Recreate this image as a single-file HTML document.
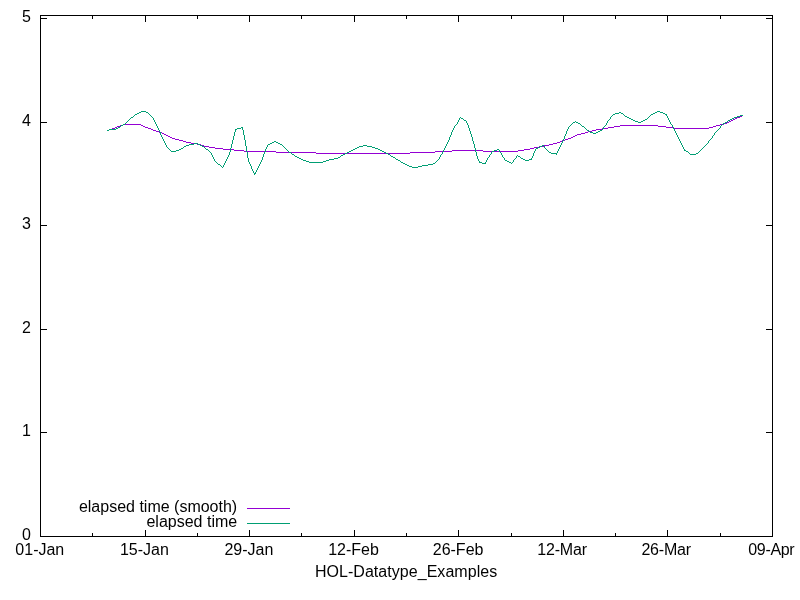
<!DOCTYPE html>
<html><head><meta charset="utf-8"><title>HOL-Datatype_Examples</title>
<style>
html,body{margin:0;padding:0;background:#fff;}
body{width:800px;height:600px;overflow:hidden;position:relative;}
svg{display:block;position:absolute;left:0;top:0;}
text{font-family:"Liberation Sans",sans-serif;font-size:16px;fill:#000;}
</style></head><body>
<svg width="800" height="600" viewBox="0 0 800 600">
<rect width="800" height="600" fill="#fff"/>
<g fill="#000" stroke="none" shape-rendering="crispEdges">
<rect x="40" y="15" width="733" height="1"/>
<rect x="40" y="536" width="733" height="1"/>
<rect x="40" y="15" width="1" height="522"/>
<rect x="772" y="15" width="1" height="522"/>
<rect x="41" y="536" width="6" height="1"/><rect x="766" y="536" width="6" height="1"/>
<rect x="41" y="432" width="6" height="1"/><rect x="766" y="432" width="6" height="1"/>
<rect x="41" y="329" width="6" height="1"/><rect x="766" y="329" width="6" height="1"/>
<rect x="41" y="225" width="6" height="1"/><rect x="766" y="225" width="6" height="1"/>
<rect x="41" y="122" width="6" height="1"/><rect x="766" y="122" width="6" height="1"/>
<rect x="41" y="18" width="6" height="1"/><rect x="766" y="18" width="6" height="1"/>
<rect x="40" y="530" width="1" height="6"/><rect x="40" y="16" width="1" height="6"/>
<rect x="92" y="533" width="1" height="3"/><rect x="92" y="16" width="1" height="3"/>
<rect x="145" y="530" width="1" height="6"/><rect x="145" y="16" width="1" height="6"/>
<rect x="197" y="533" width="1" height="3"/><rect x="197" y="16" width="1" height="3"/>
<rect x="249" y="530" width="1" height="6"/><rect x="249" y="16" width="1" height="6"/>
<rect x="301" y="533" width="1" height="3"/><rect x="301" y="16" width="1" height="3"/>
<rect x="354" y="530" width="1" height="6"/><rect x="354" y="16" width="1" height="6"/>
<rect x="406" y="533" width="1" height="3"/><rect x="406" y="16" width="1" height="3"/>
<rect x="458" y="530" width="1" height="6"/><rect x="458" y="16" width="1" height="6"/>
<rect x="511" y="533" width="1" height="3"/><rect x="511" y="16" width="1" height="3"/>
<rect x="563" y="530" width="1" height="6"/><rect x="563" y="16" width="1" height="6"/>
<rect x="615" y="533" width="1" height="3"/><rect x="615" y="16" width="1" height="3"/>
<rect x="667" y="530" width="1" height="6"/><rect x="667" y="16" width="1" height="6"/>
<rect x="720" y="533" width="1" height="3"/><rect x="720" y="16" width="1" height="3"/>
<rect x="772" y="530" width="1" height="6"/><rect x="772" y="16" width="1" height="6"/>
</g>
<g stroke="none" shape-rendering="crispEdges">
<path fill="#9400d3" d="M740 116h2v1h-2zM737 117h3v1h-3zM735 118h2v1h-2zM733 119h2v1h-2zM731 120h2v1h-2zM729 121h2v1h-2zM727 122h2v1h-2zM724 123h3v1h-3zM123 124h18v1h-18zM720 124h4v1h-4zM120 125h3v1h-3zM141 125h2v1h-2zM620 125h38v1h-38zM716 125h4v1h-4zM117 126h3v1h-3zM143 126h2v1h-2zM614 126h6v1h-6zM658 126h8v1h-8zM713 126h3v1h-3zM115 127h2v1h-2zM145 127h3v1h-3zM608 127h6v1h-6zM666 127h8v1h-8zM709 127h4v1h-4zM112 128h3v1h-3zM148 128h3v1h-3zM602 128h6v1h-6zM674 128h35v1h-35zM109 129h3v1h-3zM151 129h2v1h-2zM596 129h6v1h-6zM107 130h2v1h-2zM153 130h3v1h-3zM592 130h4v1h-4zM156 131h3v1h-3zM588 131h4v1h-4zM159 132h3v1h-3zM585 132h3v1h-3zM162 133h2v1h-2zM581 133h4v1h-4zM164 134h2v1h-2zM577 134h4v1h-4zM166 135h2v1h-2zM575 135h2v1h-2zM168 136h2v1h-2zM573 136h2v1h-2zM170 137h2v1h-2zM571 137h2v1h-2zM172 138h3v1h-3zM568 138h3v1h-3zM175 139h4v1h-4zM565 139h3v1h-3zM179 140h4v1h-4zM562 140h3v1h-3zM183 141h3v1h-3zM560 141h2v1h-2zM186 142h5v1h-5zM557 142h3v1h-3zM191 143h6v1h-6zM553 143h4v1h-4zM197 144h4v1h-4zM549 144h4v1h-4zM201 145h3v1h-3zM544 145h5v1h-5zM204 146h5v1h-5zM539 146h5v1h-5zM209 147h6v1h-6zM534 147h5v1h-5zM215 148h8v1h-8zM530 148h4v1h-4zM223 149h11v1h-11zM524 149h6v1h-6zM234 150h10v1h-10zM452 150h31v1h-31zM518 150h6v1h-6zM244 151h32v1h-32zM435 151h17v1h-17zM483 151h35v1h-35zM276 152h40v1h-40zM410 152h25v1h-25zM316 153h94v1h-94z"/>
<path fill="#009e73" d="M141 111h5v1h-5zM657 111h3v1h-3zM139 112h2v1h-2zM146 112h2v1h-2zM619 112h2v1h-2zM655 112h2v1h-2zM660 112h3v1h-3zM137 113h2v1h-2zM148 113h1v1h-1zM615 113h4v1h-4zM621 113h2v1h-2zM653 113h2v1h-2zM663 113h2v1h-2zM135 114h2v1h-2zM149 114h1v1h-1zM613 114h2v1h-2zM623 114h1v1h-1zM651 114h2v1h-2zM665 114h2v1h-2zM134 115h1v1h-1zM150 115h1v1h-1zM612 115h1v1h-1zM624 115h1v1h-1zM650 115h1v1h-1zM666 115h1v1h-1zM740 115h3v1h-3zM133 116h1v1h-1zM151 116h1v1h-1zM611 116h1v1h-1zM625 116h2v1h-2zM649 116h1v1h-1zM667 116h1v1h-1zM737 116h3v1h-3zM131 117h2v1h-2zM152 117h1v1h-1zM460 117h1v1h-1zM610 117h1v1h-1zM627 117h2v1h-2zM648 117h1v1h-1zM667 117h1v1h-1zM734 117h3v1h-3zM130 118h1v1h-1zM153 118h1v1h-1zM459 118h1v1h-1zM461 118h2v1h-2zM610 118h1v1h-1zM629 118h2v1h-2zM647 118h1v1h-1zM668 118h1v1h-1zM732 118h2v1h-2zM129 119h1v1h-1zM153 119h1v1h-1zM459 119h1v1h-1zM463 119h1v1h-1zM609 119h1v1h-1zM631 119h2v1h-2zM645 119h2v1h-2zM668 119h1v1h-1zM730 119h2v1h-2zM128 120h1v1h-1zM154 120h1v1h-1zM458 120h1v1h-1zM464 120h2v1h-2zM608 120h1v1h-1zM633 120h2v1h-2zM643 120h2v1h-2zM669 120h1v1h-1zM728 120h2v1h-2zM127 121h1v1h-1zM154 121h1v1h-1zM458 121h1v1h-1zM466 121h1v1h-1zM575 121h1v1h-1zM607 121h1v1h-1zM635 121h3v1h-3zM641 121h2v1h-2zM669 121h1v1h-1zM727 121h1v1h-1zM126 122h1v1h-1zM155 122h1v1h-1zM457 122h1v1h-1zM466 122h1v1h-1zM573 122h2v1h-2zM576 122h2v1h-2zM607 122h1v1h-1zM638 122h3v1h-3zM670 122h1v1h-1zM725 122h2v1h-2zM125 123h1v1h-1zM155 123h1v1h-1zM457 123h1v1h-1zM467 123h1v1h-1zM572 123h1v1h-1zM578 123h2v1h-2zM606 123h1v1h-1zM670 123h1v1h-1zM723 123h2v1h-2zM123 124h2v1h-2zM156 124h1v1h-1zM456 124h1v1h-1zM467 124h1v1h-1zM571 124h1v1h-1zM580 124h1v1h-1zM606 124h1v1h-1zM671 124h1v1h-1zM722 124h1v1h-1zM121 125h2v1h-2zM156 125h1v1h-1zM455 125h1v1h-1zM468 125h1v1h-1zM570 125h1v1h-1zM581 125h1v1h-1zM605 125h1v1h-1zM672 125h1v1h-1zM721 125h1v1h-1zM120 126h1v1h-1zM157 126h1v1h-1zM454 126h1v1h-1zM468 126h1v1h-1zM569 126h1v1h-1zM582 126h2v1h-2zM604 126h1v1h-1zM672 126h1v1h-1zM720 126h1v1h-1zM118 127h2v1h-2zM157 127h1v1h-1zM241 127h2v1h-2zM454 127h1v1h-1zM468 127h1v1h-1zM568 127h1v1h-1zM584 127h1v1h-1zM603 127h1v1h-1zM673 127h1v1h-1zM720 127h1v1h-1zM116 128h2v1h-2zM158 128h1v1h-1zM237 128h4v1h-4zM242 128h1v1h-1zM453 128h1v1h-1zM469 128h1v1h-1zM568 128h1v1h-1zM585 128h1v1h-1zM603 128h1v1h-1zM673 128h1v1h-1zM719 128h1v1h-1zM109 129h7v1h-7zM158 129h1v1h-1zM235 129h2v1h-2zM242 129h1v1h-1zM453 129h1v1h-1zM469 129h1v1h-1zM567 129h1v1h-1zM586 129h1v1h-1zM602 129h1v1h-1zM674 129h1v1h-1zM718 129h1v1h-1zM107 130h2v1h-2zM159 130h1v1h-1zM235 130h1v1h-1zM243 130h1v1h-1zM452 130h1v1h-1zM469 130h1v1h-1zM567 130h1v1h-1zM587 130h2v1h-2zM600 130h2v1h-2zM674 130h1v1h-1zM717 130h1v1h-1zM159 131h1v1h-1zM235 131h1v1h-1zM243 131h1v1h-1zM452 131h1v1h-1zM470 131h1v1h-1zM566 131h1v1h-1zM589 131h1v1h-1zM598 131h2v1h-2zM675 131h1v1h-1zM716 131h1v1h-1zM160 132h1v1h-1zM234 132h1v1h-1zM243 132h1v1h-1zM451 132h1v1h-1zM470 132h1v1h-1zM566 132h1v1h-1zM590 132h3v1h-3zM596 132h2v1h-2zM675 132h1v1h-1zM715 132h1v1h-1zM160 133h1v1h-1zM234 133h1v1h-1zM243 133h1v1h-1zM451 133h1v1h-1zM470 133h1v1h-1zM566 133h1v1h-1zM593 133h3v1h-3zM676 133h1v1h-1zM714 133h1v1h-1zM160 134h1v1h-1zM234 134h1v1h-1zM243 134h1v1h-1zM451 134h1v1h-1zM471 134h1v1h-1zM565 134h1v1h-1zM676 134h1v1h-1zM714 134h1v1h-1zM161 135h1v1h-1zM234 135h1v1h-1zM244 135h1v1h-1zM450 135h1v1h-1zM471 135h1v1h-1zM565 135h1v1h-1zM677 135h1v1h-1zM713 135h1v1h-1zM161 136h1v1h-1zM233 136h1v1h-1zM244 136h1v1h-1zM450 136h1v1h-1zM471 136h1v1h-1zM564 136h1v1h-1zM677 136h1v1h-1zM712 136h1v1h-1zM162 137h1v1h-1zM233 137h1v1h-1zM244 137h1v1h-1zM449 137h1v1h-1zM472 137h1v1h-1zM564 137h1v1h-1zM678 137h1v1h-1zM712 137h1v1h-1zM162 138h1v1h-1zM233 138h1v1h-1zM244 138h1v1h-1zM449 138h1v1h-1zM472 138h1v1h-1zM564 138h1v1h-1zM678 138h1v1h-1zM711 138h1v1h-1zM163 139h1v1h-1zM233 139h1v1h-1zM244 139h1v1h-1zM449 139h1v1h-1zM472 139h1v1h-1zM563 139h1v1h-1zM679 139h1v1h-1zM710 139h1v1h-1zM163 140h1v1h-1zM232 140h1v1h-1zM245 140h1v1h-1zM448 140h1v1h-1zM472 140h1v1h-1zM563 140h1v1h-1zM679 140h1v1h-1zM709 140h1v1h-1zM164 141h1v1h-1zM232 141h1v1h-1zM245 141h1v1h-1zM274 141h2v1h-2zM448 141h1v1h-1zM473 141h1v1h-1zM562 141h1v1h-1zM680 141h1v1h-1zM708 141h1v1h-1zM164 142h1v1h-1zM232 142h1v1h-1zM245 142h1v1h-1zM272 142h2v1h-2zM276 142h2v1h-2zM447 142h1v1h-1zM473 142h1v1h-1zM562 142h1v1h-1zM680 142h1v1h-1zM708 142h1v1h-1zM165 143h1v1h-1zM194 143h4v1h-4zM232 143h1v1h-1zM245 143h1v1h-1zM270 143h2v1h-2zM278 143h2v1h-2zM447 143h1v1h-1zM473 143h1v1h-1zM561 143h1v1h-1zM681 143h1v1h-1zM707 143h1v1h-1zM165 144h1v1h-1zM189 144h5v1h-5zM198 144h2v1h-2zM231 144h1v1h-1zM245 144h1v1h-1zM268 144h2v1h-2zM280 144h2v1h-2zM446 144h1v1h-1zM474 144h1v1h-1zM561 144h1v1h-1zM681 144h1v1h-1zM706 144h1v1h-1zM166 145h1v1h-1zM186 145h3v1h-3zM200 145h2v1h-2zM231 145h1v1h-1zM245 145h1v1h-1zM267 145h1v1h-1zM282 145h1v1h-1zM363 145h4v1h-4zM446 145h1v1h-1zM474 145h1v1h-1zM542 145h2v1h-2zM560 145h1v1h-1zM682 145h1v1h-1zM705 145h1v1h-1zM166 146h1v1h-1zM184 146h2v1h-2zM202 146h2v1h-2zM231 146h1v1h-1zM246 146h1v1h-1zM267 146h1v1h-1zM283 146h1v1h-1zM359 146h4v1h-4zM367 146h5v1h-5zM445 146h1v1h-1zM474 146h1v1h-1zM540 146h2v1h-2zM544 146h1v1h-1zM560 146h1v1h-1zM682 146h1v1h-1zM704 146h1v1h-1zM167 147h1v1h-1zM183 147h1v1h-1zM204 147h1v1h-1zM231 147h1v1h-1zM246 147h1v1h-1zM266 147h1v1h-1zM284 147h1v1h-1zM357 147h2v1h-2zM372 147h3v1h-3zM445 147h1v1h-1zM474 147h1v1h-1zM538 147h2v1h-2zM544 147h1v1h-1zM559 147h1v1h-1zM683 147h1v1h-1zM703 147h1v1h-1zM168 148h1v1h-1zM181 148h2v1h-2zM205 148h1v1h-1zM230 148h1v1h-1zM246 148h1v1h-1zM266 148h1v1h-1zM285 148h1v1h-1zM355 148h2v1h-2zM375 148h3v1h-3zM444 148h1v1h-1zM475 148h1v1h-1zM536 148h2v1h-2zM545 148h1v1h-1zM559 148h1v1h-1zM683 148h1v1h-1zM702 148h1v1h-1zM169 149h1v1h-1zM179 149h2v1h-2zM206 149h2v1h-2zM230 149h1v1h-1zM246 149h1v1h-1zM265 149h1v1h-1zM286 149h1v1h-1zM353 149h2v1h-2zM378 149h2v1h-2zM444 149h1v1h-1zM475 149h1v1h-1zM497 149h2v1h-2zM535 149h1v1h-1zM546 149h1v1h-1zM558 149h1v1h-1zM684 149h1v1h-1zM701 149h1v1h-1zM170 150h1v1h-1zM176 150h3v1h-3zM208 150h1v1h-1zM230 150h1v1h-1zM246 150h1v1h-1zM265 150h1v1h-1zM287 150h1v1h-1zM351 150h2v1h-2zM380 150h2v1h-2zM443 150h1v1h-1zM475 150h1v1h-1zM494 150h3v1h-3zM499 150h1v1h-1zM535 150h1v1h-1zM547 150h1v1h-1zM558 150h1v1h-1zM684 150h2v1h-2zM700 150h1v1h-1zM171 151h5v1h-5zM209 151h1v1h-1zM230 151h1v1h-1zM246 151h1v1h-1zM265 151h1v1h-1zM288 151h1v1h-1zM349 151h2v1h-2zM382 151h2v1h-2zM443 151h1v1h-1zM475 151h1v1h-1zM492 151h2v1h-2zM499 151h1v1h-1zM534 151h1v1h-1zM548 151h1v1h-1zM557 151h1v1h-1zM686 151h2v1h-2zM699 151h1v1h-1zM210 152h1v1h-1zM229 152h1v1h-1zM247 152h1v1h-1zM264 152h1v1h-1zM289 152h2v1h-2zM347 152h2v1h-2zM384 152h2v1h-2zM442 152h1v1h-1zM476 152h1v1h-1zM491 152h1v1h-1zM500 152h1v1h-1zM534 152h1v1h-1zM549 152h2v1h-2zM557 152h1v1h-1zM688 152h1v1h-1zM698 152h1v1h-1zM211 153h1v1h-1zM229 153h1v1h-1zM247 153h1v1h-1zM264 153h1v1h-1zM291 153h1v1h-1zM345 153h2v1h-2zM386 153h2v1h-2zM442 153h1v1h-1zM476 153h1v1h-1zM491 153h1v1h-1zM501 153h1v1h-1zM533 153h1v1h-1zM551 153h6v1h-6zM689 153h1v1h-1zM696 153h2v1h-2zM211 154h1v1h-1zM229 154h1v1h-1zM247 154h1v1h-1zM263 154h1v1h-1zM292 154h2v1h-2zM343 154h2v1h-2zM388 154h2v1h-2zM441 154h1v1h-1zM476 154h1v1h-1zM490 154h1v1h-1zM501 154h1v1h-1zM533 154h1v1h-1zM556 154h1v1h-1zM690 154h6v1h-6zM212 155h1v1h-1zM228 155h1v1h-1zM247 155h1v1h-1zM263 155h1v1h-1zM294 155h1v1h-1zM341 155h2v1h-2zM390 155h1v1h-1zM440 155h1v1h-1zM476 155h1v1h-1zM489 155h1v1h-1zM502 155h1v1h-1zM517 155h1v1h-1zM533 155h1v1h-1zM212 156h1v1h-1zM228 156h1v1h-1zM247 156h1v1h-1zM263 156h1v1h-1zM295 156h2v1h-2zM340 156h1v1h-1zM391 156h2v1h-2zM440 156h1v1h-1zM477 156h1v1h-1zM489 156h1v1h-1zM502 156h1v1h-1zM516 156h1v1h-1zM518 156h2v1h-2zM532 156h1v1h-1zM213 157h1v1h-1zM227 157h1v1h-1zM247 157h1v1h-1zM262 157h1v1h-1zM297 157h2v1h-2zM338 157h2v1h-2zM393 157h2v1h-2zM439 157h1v1h-1zM477 157h1v1h-1zM488 157h1v1h-1zM503 157h1v1h-1zM516 157h1v1h-1zM520 157h1v1h-1zM532 157h1v1h-1zM213 158h1v1h-1zM227 158h1v1h-1zM248 158h1v1h-1zM262 158h1v1h-1zM299 158h2v1h-2zM334 158h4v1h-4zM395 158h1v1h-1zM439 158h1v1h-1zM477 158h1v1h-1zM487 158h1v1h-1zM504 158h1v1h-1zM515 158h1v1h-1zM521 158h2v1h-2zM531 158h1v1h-1zM214 159h1v1h-1zM226 159h1v1h-1zM248 159h1v1h-1zM262 159h1v1h-1zM301 159h2v1h-2zM329 159h5v1h-5zM396 159h2v1h-2zM438 159h1v1h-1zM478 159h1v1h-1zM487 159h1v1h-1zM504 159h1v1h-1zM514 159h1v1h-1zM523 159h2v1h-2zM529 159h3v1h-3zM214 160h1v1h-1zM226 160h1v1h-1zM248 160h1v1h-1zM261 160h1v1h-1zM303 160h3v1h-3zM326 160h3v1h-3zM398 160h2v1h-2zM437 160h1v1h-1zM478 160h1v1h-1zM486 160h1v1h-1zM505 160h2v1h-2zM513 160h1v1h-1zM525 160h4v1h-4zM215 161h1v1h-1zM225 161h1v1h-1zM248 161h1v1h-1zM261 161h1v1h-1zM306 161h3v1h-3zM323 161h3v1h-3zM400 161h1v1h-1zM436 161h1v1h-1zM479 161h1v1h-1zM486 161h1v1h-1zM507 161h2v1h-2zM513 161h1v1h-1zM216 162h1v1h-1zM225 162h1v1h-1zM249 162h1v1h-1zM260 162h1v1h-1zM309 162h14v1h-14zM401 162h2v1h-2zM435 162h1v1h-1zM479 162h3v1h-3zM485 162h1v1h-1zM509 162h2v1h-2zM512 162h1v1h-1zM217 163h1v1h-1zM224 163h1v1h-1zM249 163h1v1h-1zM260 163h1v1h-1zM403 163h2v1h-2zM433 163h2v1h-2zM482 163h4v1h-4zM511 163h1v1h-1zM218 164h2v1h-2zM224 164h1v1h-1zM250 164h1v1h-1zM259 164h1v1h-1zM405 164h2v1h-2zM428 164h5v1h-5zM220 165h1v1h-1zM223 165h1v1h-1zM250 165h1v1h-1zM259 165h1v1h-1zM407 165h2v1h-2zM422 165h6v1h-6zM221 166h1v1h-1zM223 166h1v1h-1zM251 166h1v1h-1zM258 166h1v1h-1zM409 166h3v1h-3zM418 166h4v1h-4zM222 167h1v1h-1zM251 167h1v1h-1zM258 167h1v1h-1zM412 167h6v1h-6zM251 168h1v1h-1zM257 168h1v1h-1zM252 169h1v1h-1zM257 169h1v1h-1zM252 170h1v1h-1zM256 170h1v1h-1zM253 171h1v1h-1zM256 171h1v1h-1zM253 172h1v1h-1zM255 172h1v1h-1zM254 173h2v1h-2zM254 174h1v1h-1z"/>
<rect fill="#9400d3" x="247" y="508" width="43" height="1"/>
<rect fill="#009e73" x="247" y="523" width="43" height="1"/>
</g>
<g opacity="0.999" style="will-change:transform">
<text x="31" y="540" text-anchor="end">0</text>
<text x="31" y="436" text-anchor="end">1</text>
<text x="31" y="333" text-anchor="end">2</text>
<text x="31" y="229" text-anchor="end">3</text>
<text x="31" y="126" text-anchor="end">4</text>
<text x="31" y="22" text-anchor="end">5</text>
<text x="39.80" y="555" text-anchor="middle">01-Jan</text>
<text x="144.37" y="555" text-anchor="middle">15-Jan</text>
<text x="248.94" y="555" text-anchor="middle">29-Jan</text>
<text x="353.51" y="555" text-anchor="middle">12-Feb</text>
<text x="458.09" y="555" text-anchor="middle">26-Feb</text>
<text x="562.06" y="555" text-anchor="middle" letter-spacing="-0.2">12-Mar</text>
<text x="666.13" y="555" text-anchor="middle" letter-spacing="-0.2">26-Mar</text>
<text x="771.28" y="555" text-anchor="middle" letter-spacing="-0.34">09-Apr</text>
<text x="406.1" y="576.5" text-anchor="middle" letter-spacing="0.04">HOL-Datatype_Examples</text>
<text x="237.2" y="511.5" text-anchor="end">elapsed time (smooth)</text>
<text x="237.2" y="526.5" text-anchor="end">elapsed time</text>
</g>
</svg></body></html>
